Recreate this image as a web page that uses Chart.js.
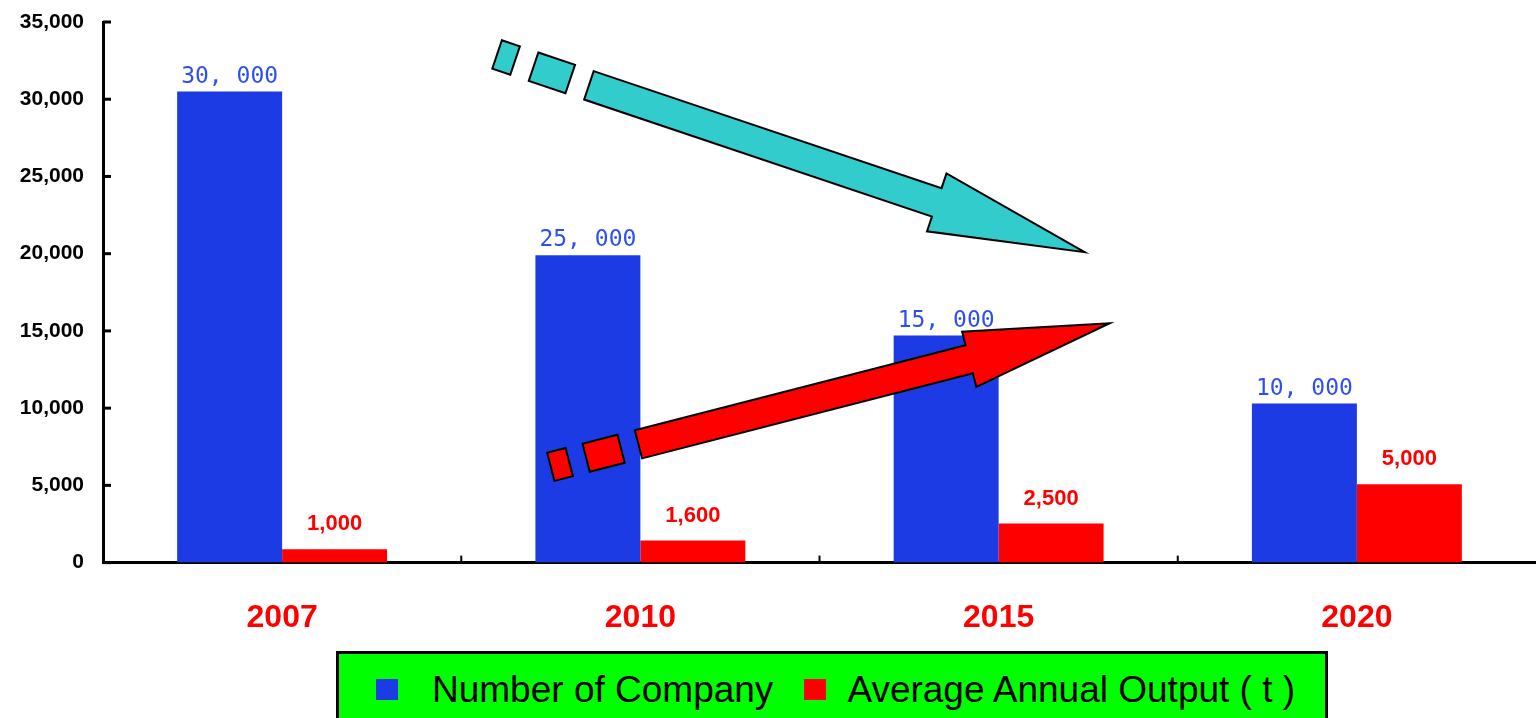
<!DOCTYPE html>
<html lang="en">
<head>
<meta charset="UTF-8">
<title>Number of Company and Average Annual Output</title>
<script src="https://cdn.jsdelivr.net/npm/chart.js@4.4.1/dist/chart.umd.min.js"></script>
<style>
  body { margin: 0; background: #fff; }
  #wrap { position: relative; width: 1536px; height: 718px; overflow: hidden; }
  #legend {
    position: absolute; left: 336px; top: 651px; width: 992px; height: 80px;
    box-sizing: border-box; background: #00ff00; border: 3px solid #000;
    font-family: "Liberation Sans", Arial, sans-serif; font-size: 37px; color: #000;
    display: flex; align-items: center; padding: 0 0 3px 37px;
  }
  #legend .box { width: 22px; height: 21px; flex: none; }
  #legend .txt { line-height: 46px; white-space: nowrap; }
</style>
</head>
<body>
<div id="wrap">
  <canvas id="chart"></canvas>
  <div id="legend"></div>
</div>
<script>
  // data
  const years = ['2007', '2010', '2015', '2020'];
  const companyCount = [30500, 19900, 14700, 10300];
  const annualOutput = [860, 1430, 2530, 5080];
  const companyLabels = ['30, 000', '25, 000', '15, 000', '10, 000'];
  const outputLabels = ['1,000', '1,600', '2,500', '5,000'];
  const seriesNames = ['Number of Company', 'Average Annual Output ( t )'];

  // trend arrows, ends given in category index / value units
  const trendArrows = [
    { from: [0.6, 32900], to: [2.24, 20100], fill: '#33cccc', width: 30, headWidth: 61, headLength: 156, dashes: [19, 19.5, 38.7, 19.7] },
    { from: [0.75, 6200], to: [2.31, 15500], fill: '#ff0000', width: 29, headWidth: 57, headLength: 145, dashes: [19, 17.5, 36, 18] }
  ];

  const blue = '#1c3be4';
  const red = '#ff0000';

  const innerTicks = {
    id: 'innerTicks',
    afterDraw(chart) {
      const ctx = chart.ctx, x = chart.scales.x, y = chart.scales.y;
      const area = chart.chartArea;
      ctx.save();
      ctx.strokeStyle = '#000';
      ctx.lineWidth = 3;
      y.ticks.forEach(t => {
        const py = y.getPixelForValue(t.value);
        ctx.beginPath();
        ctx.moveTo(area.left, py);
        ctx.lineTo(area.left + 8, py);
        ctx.stroke();
      });
      ctx.lineWidth = 2;
      for (let i = 1; i < years.length; i++) {
        const px = (x.getPixelForValue(i - 1) + x.getPixelForValue(i)) / 2;
        ctx.beginPath();
        ctx.moveTo(px, area.bottom);
        ctx.lineTo(px, area.bottom - 7);
        ctx.stroke();
      }
      ctx.restore();
    }
  };

  function pt(s, u, n, a, b) {
    return [s[0] + u[0] * a + n[0] * b, s[1] + u[1] * a + n[1] * b];
  }

  function polygon(ctx, pts, fill) {
    ctx.beginPath();
    ctx.moveTo(pts[0][0], pts[0][1]);
    for (let i = 1; i < pts.length; i++) ctx.lineTo(pts[i][0], pts[i][1]);
    ctx.closePath();
    ctx.fillStyle = fill;
    ctx.fill();
    ctx.stroke();
  }

  const arrowPlugin = {
    id: 'arrows',
    afterDatasetsDraw(chart) {
      const ctx = chart.ctx, x = chart.scales.x, y = chart.scales.y;
      ctx.save();
      ctx.strokeStyle = '#000';
      ctx.lineWidth = 2;
      ctx.lineJoin = 'miter';
      trendArrows.forEach(a => {
        const s = [x.getPixelForValue(a.from[0]), y.getPixelForValue(a.from[1])];
        const t = [x.getPixelForValue(a.to[0]), y.getPixelForValue(a.to[1])];
        const len = Math.hypot(t[0] - s[0], t[1] - s[1]);
        const u = [(t[0] - s[0]) / len, (t[1] - s[1]) / len];
        const n = [-u[1], u[0]];
        const w = a.width / 2, hw = a.headWidth / 2;
        let pos = 0;
        // two short dashes before the shaft
        for (let k = 0; k < a.dashes.length; k += 2) {
          const d0 = pos, d1 = pos + a.dashes[k];
          polygon(ctx, [pt(s, u, n, d0, -w), pt(s, u, n, d1, -w), pt(s, u, n, d1, w), pt(s, u, n, d0, w)], a.fill);
          pos = d1 + a.dashes[k + 1];
        }
        const hb = len - a.headLength;
        polygon(ctx, [
          pt(s, u, n, pos, -w), pt(s, u, n, hb, -w), pt(s, u, n, hb, -hw), t,
          pt(s, u, n, hb, hw), pt(s, u, n, hb, w), pt(s, u, n, pos, w)
        ], a.fill);
      });
      ctx.restore();
    }
  };

  const barLabels = {
    id: 'barLabels',
    afterDraw(chart) {
      const ctx = chart.ctx;
      ctx.save();
      ctx.textAlign = 'center';
      ctx.textBaseline = 'alphabetic';
      chart.getDatasetMeta(0).data.forEach((bar, i) => {
        ctx.font = '23px "DejaVu Sans Mono", monospace';
        ctx.fillStyle = '#2e4ff0';
        ctx.fillText(companyLabels[i], bar.x, bar.y - 9);
      });
      chart.getDatasetMeta(1).data.forEach((bar, i) => {
        ctx.font = 'bold 22px "Liberation Sans", Arial, sans-serif';
        ctx.fillStyle = red;
        ctx.fillText(outputLabels[i], bar.x, bar.y - 19);
      });
      ctx.restore();
    }
  };

  const chart = new Chart(document.getElementById('chart'), {
    type: 'bar',
    data: {
      labels: years,
      datasets: [
        { label: seriesNames[0], data: companyCount, backgroundColor: blue, barPercentage: 1.0, categoryPercentage: 0.586 },
        { label: seriesNames[1], data: annualOutput, backgroundColor: red, barPercentage: 1.0, categoryPercentage: 0.586 }
      ]
    },
    options: {
      responsive: true,
      maintainAspectRatio: false,
      animation: false,
      layout: { padding: { left: 0, right: 0, top: 22, bottom: 45 } },
      plugins: { legend: { display: false }, tooltip: { enabled: false } },
      scales: {
        x: {
          grid: { display: false, drawTicks: false },
          border: { display: true, color: '#000', width: 3 },
          ticks: { color: red, padding: 36, font: { family: '"Liberation Sans", Arial, sans-serif', size: 32, weight: 'bold' } }
        },
        y: {
          min: 0,
          max: 35000,
          afterFit(scale) { scale.width = 103; scale.paddingTop = 0; scale.paddingBottom = 0; },
          grid: { display: false, drawTicks: false },
          border: { display: true, color: '#000', width: 3 },
          ticks: {
            stepSize: 5000,
            color: '#000',
            padding: 19,
            font: { family: '"Liberation Sans", Arial, sans-serif', size: 21, weight: 'bold' },
            callback: v => v.toLocaleString('en-US')
          }
        }
      }
    },
    plugins: [innerTicks, arrowPlugin, barLabels]
  });

  // legend box
  const legend = document.getElementById('legend');
  chart.data.datasets.forEach((ds, i) => {
    const box = document.createElement('span');
    box.className = 'box';
    box.style.background = ds.backgroundColor;
    box.style.marginLeft = i === 0 ? '0px' : '31px';
    box.style.marginRight = i === 0 ? '34px' : '21px';
    const txt = document.createElement('span');
    txt.className = 'txt';
    txt.textContent = ds.label;
    legend.appendChild(box);
    legend.appendChild(txt);
  });
</script>
</body>
</html>
